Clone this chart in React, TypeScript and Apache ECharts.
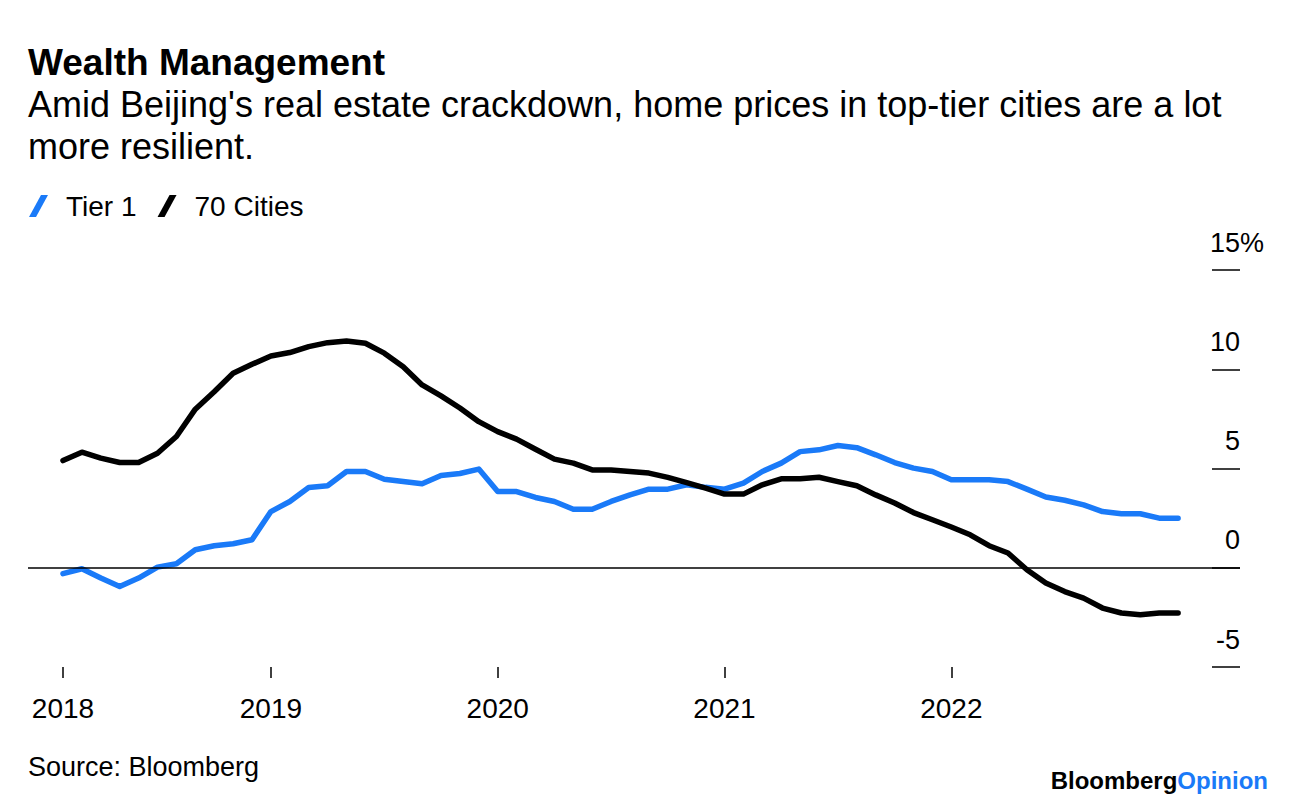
import React, { useEffect, useRef } from "react";
import * as echarts from "echarts";

// Monthly year-over-year change in new home prices, Jan 2018 – Dec 2022 (%)
const tier1 = [
  -0.3, -0.05, -0.52, -0.94, -0.52, 0.03, 0.2, 0.91, 1.11, 1.21, 1.41, 2.83,
  3.34, 4.04, 4.13, 4.85, 4.85, 4.46, 4.34, 4.23, 4.65, 4.75, 4.97, 3.84,
  3.84, 3.54, 3.34, 2.95, 2.95, 3.34, 3.67, 3.96, 3.96, 4.18, 4.05, 3.96,
  4.26, 4.85, 5.27, 5.85, 5.94, 6.16, 6.05, 5.69, 5.3, 5.02, 4.85, 4.43,
  4.43, 4.43, 4.34, 3.96, 3.56, 3.4, 3.17, 2.83, 2.72, 2.72, 2.5, 2.5,
];
const cities70 = [
  5.4, 5.82, 5.52, 5.3, 5.3, 5.77, 6.61, 7.99, 8.87, 9.8, 10.25, 10.67,
  10.84, 11.14, 11.34, 11.42, 11.31, 10.81, 10.13, 9.21, 8.66, 8.05, 7.36, 6.86,
  6.48, 5.97, 5.47, 5.27, 4.93, 4.93, 4.85, 4.77, 4.55, 4.29, 4.01, 3.71,
  3.71, 4.18, 4.48, 4.48, 4.56, 4.34, 4.13, 3.67, 3.26, 2.78, 2.42, 2.05,
  1.66, 1.11, 0.74, -0.1, -0.77, -1.2, -1.53, -2.03, -2.28, -2.37, -2.28, -2.28,
];
const yearLabels = ["2018", "2019", "2020", "2021", "2022"];
const yearTickIndex = [0, 11, 23, 35, 47];

const BLUE = "#1a7af8";
const FONT = "'Liberation Sans', Arial, Helvetica, sans-serif";

export default function App() {
  const ref = useRef<HTMLDivElement>(null);

  useEffect(() => {
    const chart = echarts.init(ref.current!, null, { renderer: "svg" });
    chart.setOption({
      animation: false,
      backgroundColor: "#ffffff",
      textStyle: { fontFamily: FONT, color: "#000" },
      title: {
        text: "Wealth Management",
        subtext:
          "Amid Beijing's real estate crackdown, home prices in top-tier cities are a lot\nmore resilient.",
        left: 28,
        top: 41,
        padding: 0,
        itemGap: 0,
        textStyle: { fontSize: 37, fontWeight: "bold", color: "#000", lineHeight: 42, fontFamily: FONT },
        subtextStyle: { fontSize: 36, color: "#000", lineHeight: 42, fontFamily: FONT },
      },
      legend: {
        left: 29,
        top: 192,
        padding: 0,
        itemWidth: 19,
        itemHeight: 22,
        itemGap: 21,
        icon: "path://M0,22 L12,0 L19,0 L7,22 Z",
        textStyle: { fontSize: 28, color: "#000", fontFamily: FONT, padding: [0, 0, 0, 13] },
        data: ["Tier 1", "70 Cities"],
      },
      grid: { left: 28, right: 56, top: 270, bottom: 139 },
      xAxis: {
        type: "value",
        min: -1.852,
        max: 62.275,
        splitLine: { show: false },
        axisLine: { show: false, onZero: false },
        axisTick: {
          show: true,
          customValues: yearTickIndex,
          length: 11,
          lineStyle: { color: "#000", width: 1.5 },
        },
        axisLabel: {
          show: true,
          customValues: yearTickIndex,
          margin: 27,
          fontSize: 28,
          color: "#000",
          fontFamily: FONT,
          formatter: (v: number) => yearLabels[yearTickIndex.indexOf(Math.round(v))] ?? "",
        },
      },
      yAxis: {
        type: "value",
        position: "right",
        min: -5,
        max: 15,
        interval: 5,
        splitLine: { show: false },
        axisLine: { show: false, onZero: false },
        axisTick: { show: true, inside: true, length: 28, lineStyle: { color: "#000", width: 1.5 } },
        axisLabel: {
          inside: true,
          margin: 0,
          fontSize: 27,
          color: "#000",
          fontFamily: FONT,
          verticalAlign: "bottom",
          padding: [0, 0, 14, 0],
        },
        name: "%",
        nameLocation: "end",
        nameGap: 27,
        nameMoveOverlap: false,
        nameTextStyle: { align: "left", verticalAlign: "middle", fontSize: 27, color: "#000", fontFamily: FONT },
      },
      series: [
        {
          name: "Tier 1",
          type: "line",
          data: tier1.map((v, i) => [i, v]),
          symbol: "none",
          showSymbol: false,
          lineStyle: { color: BLUE, width: 5.5, cap: "round", join: "round" },
          itemStyle: { color: BLUE },
          markLine: {
            silent: true,
            symbol: "none",
            label: { show: false },
            lineStyle: { color: "#000", width: 1.5, type: "solid" },
            data: [{ yAxis: 0 }],
          },
          z: 2,
        },
        {
          name: "70 Cities",
          type: "line",
          data: cities70.map((v, i) => [i, v]),
          symbol: "none",
          showSymbol: false,
          lineStyle: { color: "#000", width: 5.5, cap: "round", join: "round" },
          itemStyle: { color: "#000" },
          z: 3,
        },
      ],
      graphic: [
        {
          type: "text",
          left: 28,
          top: 753,
          style: { text: "Source: Bloomberg", fontSize: 27, fill: "#000", fontFamily: FONT },
        },
        {
          type: "text",
          right: 28,
          top: 768,
          style: {
            text: "{a|Bloomberg}{b|Opinion}",
            fontFamily: FONT,
            rich: {
              a: { fontSize: 24, fontWeight: "bold", fill: "#000", fontFamily: FONT },
              b: { fontSize: 24, fontWeight: "bold", fill: BLUE, fontFamily: FONT },
            },
          },
        },
      ],
    });
    return () => chart.dispose();
  }, []);

  return <div ref={ref} style={{ position: "absolute", left: 0, top: 0, width: 1296, height: 806 }} />;
}
